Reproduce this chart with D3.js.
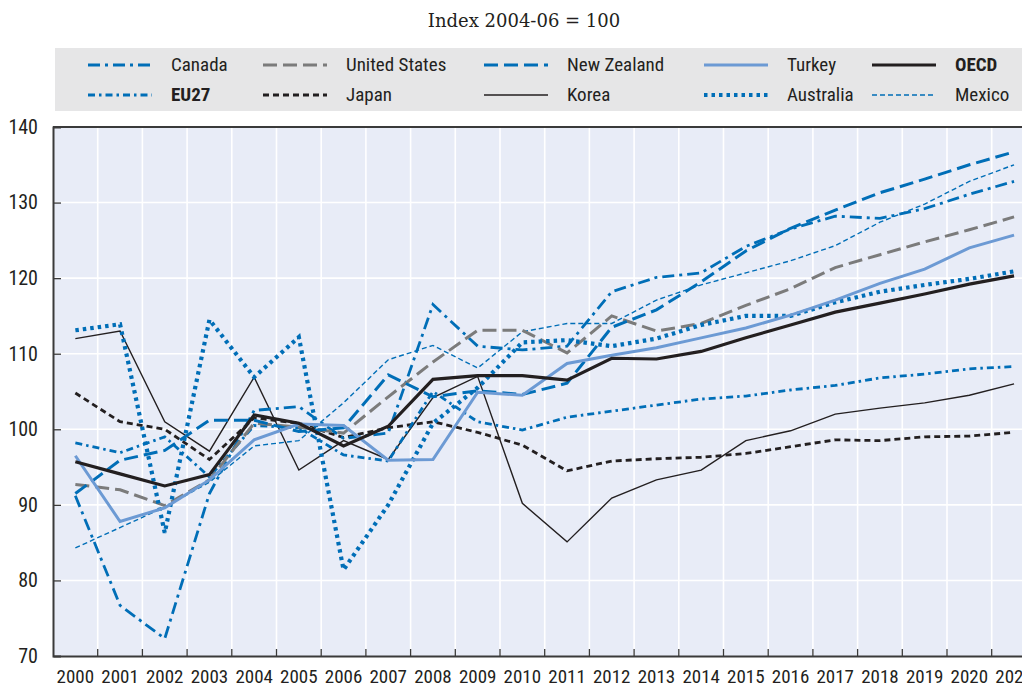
<!DOCTYPE html>
<html lang="en">
<head>
<meta charset="UTF-8">
<script src="https://d3js.org/d3.v7.min.js"></script>
<style>
  body { margin: 0; background: #fff; overflow: hidden; }
  svg text { fill: #231f20; }
  .narrow { font-family: "Liberation Sans Narrow", "Arial Narrow", "Roboto Condensed", sans-serif; }
</style>
</head>
<body>
<div id="chart"></div>
<script>
// years on the x axis
const years = [2000, 2001, 2002, 2003, 2004, 2005, 2006, 2007, 2008, 2009, 2010,
               2011, 2012, 2013, 2014, 2015, 2016, 2017, 2018, 2019, 2020, 2021];
const yTicks = [70, 80, 90, 100, 110, 120, 130, 140];

// series, index 2004-06 = 100
const canada    = [91.2, 76.7, 72.3, 91.5, 102.5, 103, 98.8, 99.5, 116.5, 111, 110.5, 111, 118.2, 120.1, 120.7, 124.2, 126.5, 128.2, 127.9, 129.2, 131.1, 132.8];
const eu27      = [98.2, 96.9, 99, 93.7, 100.5, 100.2, 96.6, 95.8, 105, 101, 99.9, 101.6, 102.4, 103.2, 104, 104.4, 105.2, 105.8, 106.8, 107.3, 108, 108.3];
const usa       = [92.7, 92, 89.9, 93.3, 100.8, 100.3, 99.5, 104.3, 108.9, 113.1, 113.1, 110.1, 115, 113, 114, 116.4, 118.6, 121.4, 123.1, 124.8, 126.4, 128.1];
const japan     = [104.8, 101, 100, 96, 101.5, 100.8, 98.9, 100.2, 101, 99.6, 97.9, 94.5, 95.8, 96.1, 96.3, 96.8, 97.7, 98.6, 98.5, 99, 99.1, 99.6];
const newZealand= [91.5, 95.9, 97.2, 101.2, 101.2, 99.7, 100.2, 107.2, 104.3, 105.1, 104.6, 106.1, 113.5, 115.8, 119.5, 123.6, 126.6, 129, 131.3, 133.1, 135, 136.7];
const korea     = [112, 113, 101, 97.1, 106.9, 94.6, 98.5, 96, 104.2, 107, 90.2, 85.1, 90.9, 93.3, 94.6, 98.5, 99.8, 102, 102.8, 103.5, 104.5, 106];
const turkey    = [96.5, 87.8, 89.6, 93.3, 98.6, 100.7, 100.5, 95.9, 96, 104.9, 104.5, 108.7, 109.8, 110.8, 112.1, 113.4, 115.1, 117.1, 119.3, 121.2, 124, 125.7];
const australia = [113.1, 113.9, 86.3, 114.5, 106.9, 112.2, 81.4, 90, 100.8, 105.5, 111.5, 111.8, 111, 112, 113.8, 115, 115, 116.8, 118.2, 119.1, 119.9, 120.9];
const oecd      = [95.7, 94.1, 92.5, 94, 101.9, 100.8, 97.8, 100.4, 106.6, 107.1, 107.1, 106.5, 109.4, 109.3, 110.3, 112.1, 113.8, 115.5, 116.7, 117.9, 119.2, 120.3];
const mexico    = [84.3, 87, 89.7, 93, 97.8, 98.5, 103.5, 109.2, 111.1, 108.1, 112.9, 114, 114, 117.1, 119.1, 120.7, 122.3, 124.3, 127.4, 129.8, 132.8, 135];

const blue = "#006eb7", lightBlue = "#6c9ad4", grey = "#7b7b7b", black = "#231f20";

// styles per series (draw order = array order)
const series = [
  { name: "Mexico",        values: mexico,     color: blue,      width: 1.4, dash: "5,3" },
  { name: "Korea",         values: korea,      color: black,     width: 1.4, dash: null },
  { name: "Japan",         values: japan,      color: black,     width: 2.8, dash: "6,4" },
  { name: "EU27",          values: eu27,       color: blue,      width: 2.8, dash: "7,4,2.5,4", bold: true },
  { name: "Canada",        values: canada,     color: blue,      width: 2.8, dash: "12,5,3,5" },
  { name: "United States", values: usa,        color: grey,      width: 3,   dash: "14,6" },
  { name: "New Zealand",   values: newZealand, color: blue,      width: 3,   dash: "14,6" },
  { name: "Australia",     values: australia,  color: blue,      width: 4.2, dash: "3.5,4" },
  { name: "Turkey",        values: turkey,     color: lightBlue, width: 3,   dash: null },
  { name: "OECD",          values: oecd,       color: black,     width: 3.2, dash: null, bold: true }
];
const legendRows = [
  ["Canada", "United States", "New Zealand", "Turkey", "OECD"],
  ["EU27", "Japan", "Korea", "Australia", "Mexico"]
];

const W = 1022, H = 689;
const plotLeft = 53, plotTop = 127, plotBottom = 656;
const step = 44.7;

const svg = d3.select("#chart").append("svg").attr("width", W).attr("height", H);

const x = d3.scaleBand().domain(years).range([plotLeft, plotLeft + step * years.length]).padding(0);
const y = d3.scaleLinear().domain([70, 140]).range([plotBottom, plotTop]);
const xc = d => x(d) + x.bandwidth() / 2;

// subtitle
svg.append("text")
  .attr("x", 524).attr("y", 27)
  .attr("text-anchor", "middle")
  .attr("font-family", "'DejaVu Serif', 'Liberation Serif', serif")
  .attr("font-size", "18px")
  .text("Index 2004-06 = 100");

// legend box
svg.append("rect").attr("x", 55).attr("y", 48).attr("width", W - 55).attr("height", 63).attr("fill", "#e6e6e7");
const colX = [88, 263, 484, 704, 872];
const byName = {};
series.forEach(s => byName[s.name] = s);
legendRows.forEach((row, r) => {
  row.forEach((name, c) => {
    const s = byName[name];
    const ly = 65 + r * 30;
    svg.append("line")
      .attr("x1", colX[c]).attr("x2", colX[c] + 64)
      .attr("y1", ly).attr("y2", ly)
      .attr("stroke", s.color).attr("stroke-width", s.width)
      .attr("stroke-dasharray", s.dash);
    svg.append("text").attr("class", "narrow")
      .attr("x", colX[c] + 83).attr("y", ly + 6)
      .attr("font-size", "19px")
      .attr("font-weight", s.bold ? "bold" : "normal")
      .text(name);
  });
});

// plot background
const plotRight = plotLeft + step * years.length;
svg.append("rect").attr("x", plotLeft).attr("y", plotTop)
  .attr("width", plotRight - plotLeft).attr("height", plotBottom - plotTop)
  .attr("fill", "#e8ecf7");

// gridlines
svg.append("g").selectAll("line").data(yTicks.slice(1, -1)).join("line")
  .attr("x1", plotLeft).attr("x2", plotRight)
  .attr("y1", d => y(d)).attr("y2", d => y(d))
  .attr("stroke", "#fff").attr("stroke-width", 1.6);
svg.append("g").selectAll("line").data(years.slice(1)).join("line")
  .attr("x1", d => x(d)).attr("x2", d => x(d))
  .attr("y1", plotTop).attr("y2", plotBottom)
  .attr("stroke", "#fff").attr("stroke-width", 1.6);

// axes
const yAxis = svg.append("g").attr("transform", `translate(${plotLeft},0)`)
  .call(d3.axisLeft(y).tickValues(yTicks).tickSize(-8).tickPadding(15));
const xAxis = svg.append("g").attr("transform", `translate(0,${plotBottom})`)
  .call(d3.axisBottom(x).tickSize(0).tickPadding(14));
[yAxis, xAxis].forEach(g => {
  g.select(".domain").attr("stroke", "#3a3a3a").attr("stroke-width", 2);
  g.selectAll("text").attr("class", "narrow").attr("font-size", "19px").attr("fill", black);
  g.selectAll(".tick line").attr("stroke", "#3a3a3a").attr("stroke-width", 1.3);
});
yAxis.selectAll("text").attr("font-size", "20px");
yAxis.selectAll(".tick").filter(d => d === 70 || d === 140).select("line").remove();
// x ticks at the band boundaries, pointing up
svg.append("g").selectAll("line").data(years.slice(1)).join("line")
  .attr("x1", d => x(d)).attr("x2", d => x(d))
  .attr("y1", plotBottom).attr("y2", plotBottom - 7)
  .attr("stroke", "#3a3a3a").attr("stroke-width", 1.3);
// top border
svg.append("line").attr("x1", plotLeft).attr("x2", plotRight).attr("y1", plotTop).attr("y2", plotTop)
  .attr("stroke", "#3a3a3a").attr("stroke-width", 2);

// lines
const line = d3.line().x((d, i) => xc(years[i])).y(d => y(d));
svg.append("g").selectAll("path").data(series).join("path")
  .attr("d", s => line(s.values))
  .attr("fill", "none")
  .attr("stroke", s => s.color)
  .attr("stroke-width", s => s.width)
  .attr("stroke-dasharray", s => s.dash)
  .attr("stroke-linejoin", "miter");
</script>
</body>
</html>
